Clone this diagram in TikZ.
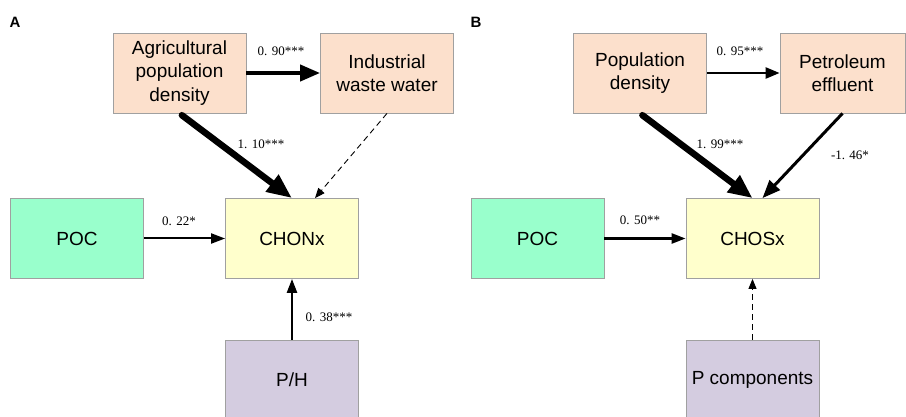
\documentclass[tikz,border=0pt]{standalone}
\usepackage{fontspec}
\setmainfont{Liberation Sans}
\newfontfamily\labelfont{Liberation Serif}
\usetikzlibrary{arrows.meta,calc}
\definecolor{peach}{HTML}{FCE0CC}
\definecolor{mint}{HTML}{99FFCC}
\definecolor{paleyellow}{HTML}{FFFFCC}
\definecolor{lavender}{HTML}{D4CCE0}
\definecolor{boxborder}{HTML}{A0A0A0}
\begin{document}
\begin{tikzpicture}[x=1pt,y=-1pt,
  box/.style={draw=boxborder,line width=0.8pt,minimum width=133pt,minimum height=80pt,
    inner sep=2pt,align=center,font=\fontsize{19}{23.5}\selectfont},
  coef/.style={font=\labelfont\fontsize{13}{15}\selectfont,inner sep=1pt},
  panel/.style={font=\bfseries\fontsize{15}{17}\selectfont,inner sep=0pt},
  dashedarrow/.style={line width=0.9pt,dash pattern=on 6pt off 4pt,-{Triangle[length=10pt,width=8pt]}}
]
\useasboundingbox (0,0) rectangle (906,417);
\clip (0,0) rectangle (906,417);
\fill[white] (0,0) rectangle (906,417);

% Panel A
\node[panel] (la) at (15,22) {A};
\node[box,fill=peach] (agri) at (179.5,73) {Agricultural\\population\\density};
\node[box,fill=peach] (ind) at (387,73) {Industrial\\waste water};
\node[box,fill=mint] (poca) at (77,238.5) {POC};
\node[box,fill=paleyellow] (chonx) at (292,238.5) {CHONx};
\node[box,fill=lavender] (ph) at (292,380) {P/H};

\draw[line width=4pt,-{Triangle[length=20pt,width=16pt]}] (agri.east) -- (ind.west);
\draw[line width=6.5pt,line cap=round,shorten <=3pt,-{Triangle[length=25pt,width=20pt]}] (agri.south) -- (chonx.north);
\draw[dashedarrow] (ind.south) -- ($(chonx.north)+(23,0)$);
\draw[line width=2pt,-{Triangle[length=14pt,width=10pt]}] (poca.east) -- (chonx.west);
\draw[line width=2.5pt,-{Triangle[length=14pt,width=10pt]}] (ph.north) -- (chonx.south);

\node[coef] (c090) at (281,51) {0. 90***};
\node[coef] (c110) at (261,144) {1. 10***};
\node[coef] (c022) at (179,221) {0. 22*};
\node[coef] (c038) at (329,317) {0. 38***};

% Panel B
\node[panel] (lb) at (476,22) {B};
\node[box,fill=peach] (popd) at (640,73) {Population\\density};
\node[box,fill=peach,minimum width=125pt] (pet) at (842.5,73) {Petroleum\\effluent};
\node[box,fill=mint] (pocb) at (537.5,238.5) {POC};
\node[box,fill=paleyellow] (chosx) at (752.5,238.5) {CHOSx};
\node[box,fill=lavender] (pcomp) at (752.5,380) {P components};

\draw[line width=2.5pt,-{Triangle[length=14pt,width=11pt]}] (popd.east) -- (pet.west);
\draw[line width=6.5pt,line cap=round,shorten <=3pt,-{Triangle[length=24pt,width=20pt]}] (popd.south) -- (chosx.north);
\draw[line width=3pt,-{Triangle[length=18pt,width=14pt]}] (pet.south) -- ($(chosx.north)+(10,0)$);
\draw[line width=2.5pt,-{Triangle[length=14pt,width=10pt]}] (pocb.east) -- (chosx.west);
\draw[dashedarrow] (pcomp.north) -- (chosx.south);

\node[coef] (c095) at (740,51) {0. 95***};
\node[coef] (c199) at (720,144) {1. 99***};
\node[coef] (c146) at (850,155) {-1. 46*};
\node[coef] (c050) at (640,220) {0. 50**};
\end{tikzpicture}
\end{document}
